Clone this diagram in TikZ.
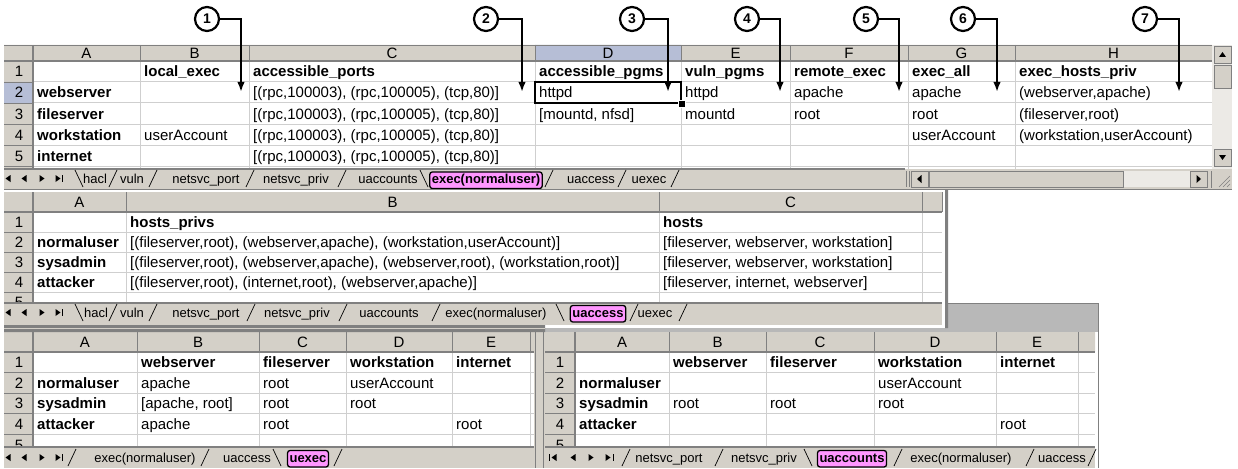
\documentclass[tikz,border=0pt]{standalone}
\usepackage{fontspec}
\setmainfont{Liberation Sans}
\usepackage{tikz}
\usetikzlibrary{arrows.meta, positioning}

\definecolor{xlgray}{HTML}{D4D0C8}
\definecolor{xlgrid}{HTML}{CFCFCF}
\definecolor{xldark}{HTML}{808080}
\definecolor{xlsel}{HTML}{B6BED6}
\definecolor{xlpink}{HTML}{FF96FF}
\definecolor{xltitle}{HTML}{B8B8B8}
\definecolor{xltrack}{HTML}{ECEAE6}

\tikzset{
  cell/.style={anchor=base west, inner sep=0pt,
      font=\fontsize{15}{15}\selectfont},
  bcell/.style={cell, font=\fontsize{15}{15}\selectfont\bfseries},
  colhead/.style={anchor=base, inner sep=0pt,
      font=\fontsize{15}{15}\selectfont},
  tabname/.style={anchor=base, inner sep=0pt,
      font=\fontsize{13}{13}\selectfont},
  acttab/.style={tabname, font=\fontsize{13}{13}\selectfont\bfseries,
      fill=xlpink, draw=black, line width=1.3pt, rounded corners=2.5pt,
      inner xsep=2pt, inner ysep=2pt, text height=9.5pt, text depth=3pt},
  gridline/.style={xlgrid, line width=1pt},
  hsep/.style={xldark, line width=.8pt},
  hline/.style={xldark, line width=1.2pt},
  tabsep/.style={black, line width=.7pt},
  btn/.style={fill=xlgray, draw=xldark, line width=.8pt},
  callnum/.style={circle, draw=black, fill=white, line width=2.2pt,
      minimum size=24pt, inner sep=0pt,
      font=\fontsize{14}{14}\selectfont\bfseries},
  callarrow/.style={-{Latex[length=10pt, width=7.5pt]}, line width=2.2pt},
}

\begin{document}
\begin{tikzpicture}[x=1pt, y=-1pt]
  \useasboundingbox (0,0) rectangle (1238,468);

  % uaccounts, bottom right
  \fill[xltitle] (545,303) rectangle (1099,332);
  \draw[xldark] (545,303.5) -- (1098.5,303.5) -- (1098.5,468);
  \fill[white] (545,332) rectangle (1095,447);
  \fill[xlgray] (545,332) rectangle (1095,352) (545,352) rectangle (575,447);
  \foreach \yy in {372,393,413,434} {
    \draw[gridline] (575,\yy) -- (1095,\yy);
    \draw[hsep] (545,\yy) -- (575,\yy);
  }
  \foreach \xx in {669,766,874,996,1078} {
    \draw[gridline] (\xx,352) -- (\xx,447);
    \draw[hsep] (\xx,332) -- (\xx,352);
  }
  \draw[hline] (545,352) -- (1095,352) (575,332) -- (575,447);
  \foreach \cl/\xx in {A/622,B/717.5,C/820,D/935,E/1037}
    \node[colhead] (uc-\cl) at (\xx,347.5) {\cl};
  \foreach \rw/\yy in {1/367.5,2/388,3/408.5,4/429,5/450}
    \node[colhead] (uc-\rw) at (560,\yy) {\rw};
  \node[bcell] (uc-B1) at (673,367.5) {webserver};
  \node[bcell] (uc-C1) at (770,367.5) {fileserver};
  \node[bcell] (uc-D1) at (878,367.5) {workstation};
  \node[bcell] (uc-E1) at (1000,367.5) {internet};
  \node[bcell] (uc-A2) at (579,388) {normaluser};
  \node[cell] (uc-D2) at (878,388) {userAccount};
  \node[bcell] (uc-A3) at (579,408.5) {sysadmin};
  \node[cell] (uc-B3) at (673,408.5) {root};
  \node[cell] (uc-C3) at (770,408.5) {root};
  \node[cell] (uc-D3) at (878,408.5) {root};
  \node[bcell] (uc-A4) at (579,429) {attacker};
  \node[cell] (uc-E4) at (1000,429) {root};
  \fill[xlgray] (545,447) rectangle (1095,468);
  \draw[hline] (545,447) -- (1095,447);
  \draw[line width=1pt] (549,454) -- (549,461) (613,454) -- (613,461);
  \foreach \xx in {554,573} \fill (\xx-2.5,457.5) -- ++(5,-3.5) -- ++(0,7) -- cycle;
  \foreach \xx in {591,608} \fill (\xx+2.5,457.5) -- ++(-5,-3.5) -- ++(0,7) -- cycle;
  \node[tabname] (uc-t1) at (669,462) {netsvc\_port};
  \node[tabname] (uc-t2) at (764,462) {netsvc\_priv};
  \node[acttab] (uc-t3) at (852,462) {uaccounts};
  \node[tabname] (uc-t4) at (961,462) {exec(normaluser)};
  \node[tabname] (uc-t5) at (1062,462) {uaccess};
  \foreach \xx in {626,719,898,1030,1092} \draw[tabsep] (\xx-4,466) -- (\xx+4,449);
  \draw[tabsep] (804,449) -- (812,466);

  % uexec, bottom left
  \fill[white] (4,332) rectangle (534,447);
  \fill[xlgray] (4,332) rectangle (534,352) (4,352) rectangle (33,447);
  \foreach \yy in {372,393,413,434} {
    \draw[gridline] (33,\yy) -- (534,\yy);
    \draw[hsep] (4,\yy) -- (33,\yy);
  }
  \foreach \xx in {137,259,346,452,530} {
    \draw[gridline] (\xx,352) -- (\xx,447);
    \draw[hsep] (\xx,332) -- (\xx,352);
  }
  \draw[hline] (4,352) -- (534,352) (33,332) -- (33,447);
  \foreach \cl/\xx in {A/85,B/198,C/302.5,D/399,E/491}
    \node[colhead] (ue-\cl) at (\xx,347.5) {\cl};
  \foreach \rw/\yy in {1/367.5,2/388,3/408.5,4/429,5/450}
    \node[colhead] (ue-\rw) at (19,\yy) {\rw};
  \node[bcell] (ue-B1) at (141,367.5) {webserver};
  \node[bcell] (ue-C1) at (263,367.5) {fileserver};
  \node[bcell] (ue-D1) at (350,367.5) {workstation};
  \node[bcell] (ue-E1) at (456,367.5) {internet};
  \node[bcell] (ue-A2) at (37,388) {normaluser};
  \node[cell] (ue-B2) at (141,388) {apache};
  \node[cell] (ue-C2) at (263,388) {root};
  \node[cell] (ue-D2) at (350,388) {userAccount};
  \node[bcell] (ue-A3) at (37,408.5) {sysadmin};
  \node[cell] (ue-B3) at (141,408.5) {[apache, root]};
  \node[cell] (ue-C3) at (263,408.5) {root};
  \node[cell] (ue-D3) at (350,408.5) {root};
  \node[bcell] (ue-A4) at (37,429) {attacker};
  \node[cell] (ue-B4) at (141,429) {apache};
  \node[cell] (ue-C4) at (263,429) {root};
  \node[cell] (ue-E4) at (456,429) {root};
  \fill[xlgray] (4,447) rectangle (534,468);
  \draw[hline] (4,447) -- (534,447);
  \fill[xlgray] (534,332) rectangle (545,468);
  \draw[xldark] (535.5,332) -- (535.5,468) (543.5,332) -- (543.5,468);
  \draw[line width=1pt] (62,454) -- (62,461);
  \foreach \xx in {8,24} \fill (\xx-2.5,457.5) -- ++(5,-3.5) -- ++(0,7) -- cycle;
  \foreach \xx in {42,58} \fill (\xx+2.5,457.5) -- ++(-5,-3.5) -- ++(0,7) -- cycle;
  \node[tabname] (ue-t1) at (145,462) {exec(normaluser)};
  \node[tabname] (ue-t2) at (247,462) {uaccess};
  \node[acttab] (ue-t3) at (308,462) {uexec};
  \foreach \xx in {72,205,338} \draw[tabsep] (\xx-4,466) -- (\xx+4,449);
  \draw[tabsep] (273,449) -- (281,466);

  % uaccess, middle
  \fill[white] (4,190) rectangle (948,328);
  \fill[xlgray] (4,192) rectangle (942,212) (4,212) rectangle (33,303);
  \foreach \yy in {232,252,272,292} {
    \draw[gridline] (33,\yy) -- (942,\yy);
    \draw[hsep] (4,\yy) -- (33,\yy);
  }
  \foreach \xx in {126,659,922} \draw[gridline] (\xx,212) -- (\xx,303);
  \foreach \xx in {126,659,922,942} \draw[hsep] (\xx,192) -- (\xx,212);
  \draw[hline] (4,212) -- (942,212) (33,192) -- (33,303);
  \foreach \cl/\xx in {A/79.5,B/392.5,C/790.5}
    \node[colhead] (ua-\cl) at (\xx,207.5) {\cl};
  \foreach \rw/\yy in {1/227.5,2/247.5,3/267.5,4/287.5,5/307.5}
    \node[colhead] (ua-\rw) at (19,\yy) {\rw};
  \node[bcell] (ua-B1) at (130,227.5) {hosts\_privs};
  \node[bcell] (ua-C1) at (663,227.5) {hosts};
  \node[bcell] (ua-A2) at (37,247.5) {normaluser};
  \node[cell] (ua-B2) at (130,247.5) {[(fileserver,root), (webserver,apache), (workstation,userAccount)]};
  \node[cell] (ua-C2) at (663,247.5) {[fileserver, webserver, workstation]};
  \node[bcell] (ua-A3) at (37,267.5) {sysadmin};
  \node[cell] (ua-B3) at (130,267.5) {[(fileserver,root), (webserver,apache), (webserver,root), (workstation,root)]};
  \node[cell] (ua-C3) at (663,267.5) {[fileserver, webserver, workstation]};
  \node[bcell] (ua-A4) at (37,287.5) {attacker};
  \node[cell] (ua-B4) at (130,287.5) {[(fileserver,root), (internet,root), (webserver,apache)]};
  \node[cell] (ua-C4) at (663,287.5) {[fileserver, internet, webserver]};
  \fill[xlgray] (4,303) rectangle (942,325);
  \draw[hline] (4,303) -- (942,303);
  \fill[xldark] (945,190) rectangle (948,328) (4,325) rectangle (545,332);
  \draw[xlgray, line width=1pt] (4,328.5) -- (545,328.5);
  \draw[line width=1pt] (62,309) -- (62,316);
  \foreach \xx in {8,24} \fill (\xx-2.5,312.5) -- ++(5,-3.5) -- ++(0,7) -- cycle;
  \foreach \xx in {42,58} \fill (\xx+2.5,312.5) -- ++(-5,-3.5) -- ++(0,7) -- cycle;
  \node[tabname] (ua-t1) at (96,317) {hacl};
  \node[tabname] (ua-t2) at (132,317) {vuln};
  \node[tabname] (ua-t3) at (206,317) {netsvc\_port};
  \node[tabname] (ua-t4) at (297,317) {netsvc\_priv};
  \node[tabname] (ua-t5) at (389,317) {uaccounts};
  \node[tabname] (ua-t6) at (496,317) {exec(normaluser)};
  \node[acttab] (ua-t7) at (598,317) {uaccess};
  \node[tabname] (ua-t8) at (655,317) {uexec};
  \foreach \xx in {113,153,251,343,436,634,683} \draw[tabsep] (\xx-4,321) -- (\xx+4,304);
  \foreach \xx in {79,560} \draw[tabsep] (\xx-4,304) -- (\xx+4,321);

  % exec(normaluser), top
  \fill[white] (4,45) rectangle (1232,190);
  \fill[xlgray] (4,45) rectangle (1212,61) (4,61) rectangle (33,169);
  \fill[xlsel] (535,45) rectangle (681,61) (4,82) rectangle (33,103);
  \foreach \yy in {82,103,124,145,166} {
    \draw[gridline] (33,\yy) -- (1212,\yy);
    \draw[hsep] (4,\yy) -- (33,\yy);
  }
  \foreach \xx in {140,249,535,681,790,908,1015} {
    \draw[gridline] (\xx,61) -- (\xx,169);
    \draw[hsep] (\xx,45) -- (\xx,61);
  }
  \draw[hline] (4,61) -- (1212,61) (33,45) -- (33,169);
  \draw[xldark, line width=.6pt] (4,45) -- (1232,45);
  \foreach \cl/\xx in {A/86.5,B/194.5,C/392,D/608,E/735.5,F/849,G/961.5,H/1113.5}
    \node[colhead] (ex-\cl) at (\xx,58.3) {\cl};
  \foreach \rw/\yy in {1/77,2/98,3/119,4/140,5/161}
    \node[colhead] (ex-\rw) at (19,\yy) {\rw};
  \node[bcell] (ex-B1) at (144,77) {local\_exec};
  \node[bcell] (ex-C1) at (253,77) {accessible\_ports};
  \node[bcell] (ex-D1) at (539,77) {accessible\_pgms};
  \node[bcell] (ex-E1) at (685,77) {vuln\_pgms};
  \node[bcell] (ex-F1) at (794,77) {remote\_exec};
  \node[bcell] (ex-G1) at (912,77) {exec\_all};
  \node[bcell] (ex-H1) at (1019,77) {exec\_hosts\_priv};
  \node[bcell] (ex-A2) at (37,98) {webserver};
  \node[cell] (ex-C2) at (253,98) {[(rpc,100003), (rpc,100005), (tcp,80)]};
  \node[cell] (ex-D2) at (539,98) {httpd};
  \node[cell] (ex-E2) at (685,98) {httpd};
  \node[cell] (ex-F2) at (794,98) {apache};
  \node[cell] (ex-G2) at (912,98) {apache};
  \node[cell] (ex-H2) at (1019,98) {(webserver,apache)};
  \node[bcell] (ex-A3) at (37,119) {fileserver};
  \node[cell] (ex-C3) at (253,119) {[(rpc,100003), (rpc,100005), (tcp,80)]};
  \node[cell] (ex-D3) at (539,119) {[mountd, nfsd]};
  \node[cell] (ex-E3) at (685,119) {mountd};
  \node[cell] (ex-F3) at (794,119) {root};
  \node[cell] (ex-G3) at (912,119) {root};
  \node[cell] (ex-H3) at (1019,119) {(fileserver,root)};
  \node[bcell] (ex-A4) at (37,140) {workstation};
  \node[cell] (ex-B4) at (144,140) {userAccount};
  \node[cell] (ex-C4) at (253,140) {[(rpc,100003), (rpc,100005), (tcp,80)]};
  \node[cell] (ex-G4) at (912,140) {userAccount};
  \node[cell] (ex-H4) at (1019,140) {(workstation,userAccount)};
  \node[bcell] (ex-A5) at (37,161) {internet};
  \node[cell] (ex-C5) at (253,161) {[(rpc,100003), (rpc,100005), (tcp,80)]};
  \draw[line width=2.4pt] (535,82) rectangle (681,103);
  \filldraw[fill=black, draw=white, line width=.8pt] (678,100) rectangle (685,107);
  % vertical scroll bar
  \fill[xltrack] (1212,45) rectangle (1232,169);
  \draw[btn] (1214,46) rectangle (1231,63) (1214,65) rectangle (1231,88)
    (1214,149) rectangle (1231,166);
  \fill (1222.5,52) -- ++(3.5,5) -- ++(-7,0) -- cycle;
  \fill (1222.5,160) -- ++(3.5,-5) -- ++(-7,0) -- cycle;
  % sheet tabs and horizontal scroll bar
  \fill[xlgray] (4,169) rectangle (1232,189);
  \draw[hline] (4,169) -- (905,169);
  \draw[line width=1pt] (62,175) -- (62,182);
  \foreach \xx in {8,24} \fill (\xx-2.5,178.5) -- ++(5,-3.5) -- ++(0,7) -- cycle;
  \foreach \xx in {42,58} \fill (\xx+2.5,178.5) -- ++(-5,-3.5) -- ++(0,7) -- cycle;
  \node[tabname] (ex-t1) at (95,183.5) {hacl};
  \node[tabname] (ex-t2) at (132,183.5) {vuln};
  \node[tabname] (ex-t3) at (206,183.5) {netsvc\_port};
  \node[tabname] (ex-t4) at (296,183.5) {netsvc\_priv};
  \node[tabname] (ex-t5) at (388,183.5) {uaccounts};
  \node[acttab] (ex-t6) at (486,183.5) {exec(normaluser)};
  \node[tabname] (ex-t7) at (591,183.5) {uaccess};
  \node[tabname] (ex-t8) at (649,183.5) {uexec};
  \foreach \xx in {113,153,250,342,549,622,675} \draw[tabsep] (\xx-4,187) -- (\xx+4,170);
  \foreach \xx in {79,424} \draw[tabsep] (\xx-4,170) -- (\xx+4,187);
  \draw[xldark] (906,171) -- (906,187) (909,171) -- (909,187);
  \fill[xltrack] (911,171) rectangle (1207,187);
  \draw[btn] (911,171) rectangle (928,187) (929,171) rectangle (1123,187)
    (1190,171) rectangle (1207,187);
  \fill (917,179) -- ++(4.5,-4) -- ++(0,8) -- cycle;
  \fill (1201,179) -- ++(-4.5,-4) -- ++(0,8) -- cycle;
  \draw[xldark] (1211,171) -- (1211,188);
  \foreach \k in {3,7,11} \draw[xldark] (1230-\k,187) -- (1230,187-\k);
  \draw[xldark] (4,189.5) -- (1232,189.5);

  % callouts
  \foreach \n/\cx/\tx in {1/207/241, 2/486/522, 3/632/668, 4/747/780,
                          5/866/899, 6/963/997, 7/1145/1179} {
    \node[callnum] (c\n) at (\cx,19) {\n};
    \coordinate (t\n) at (\tx,92);
    \draw[callarrow] (c\n) -| (t\n);
  }
\end{tikzpicture}
\end{document}
